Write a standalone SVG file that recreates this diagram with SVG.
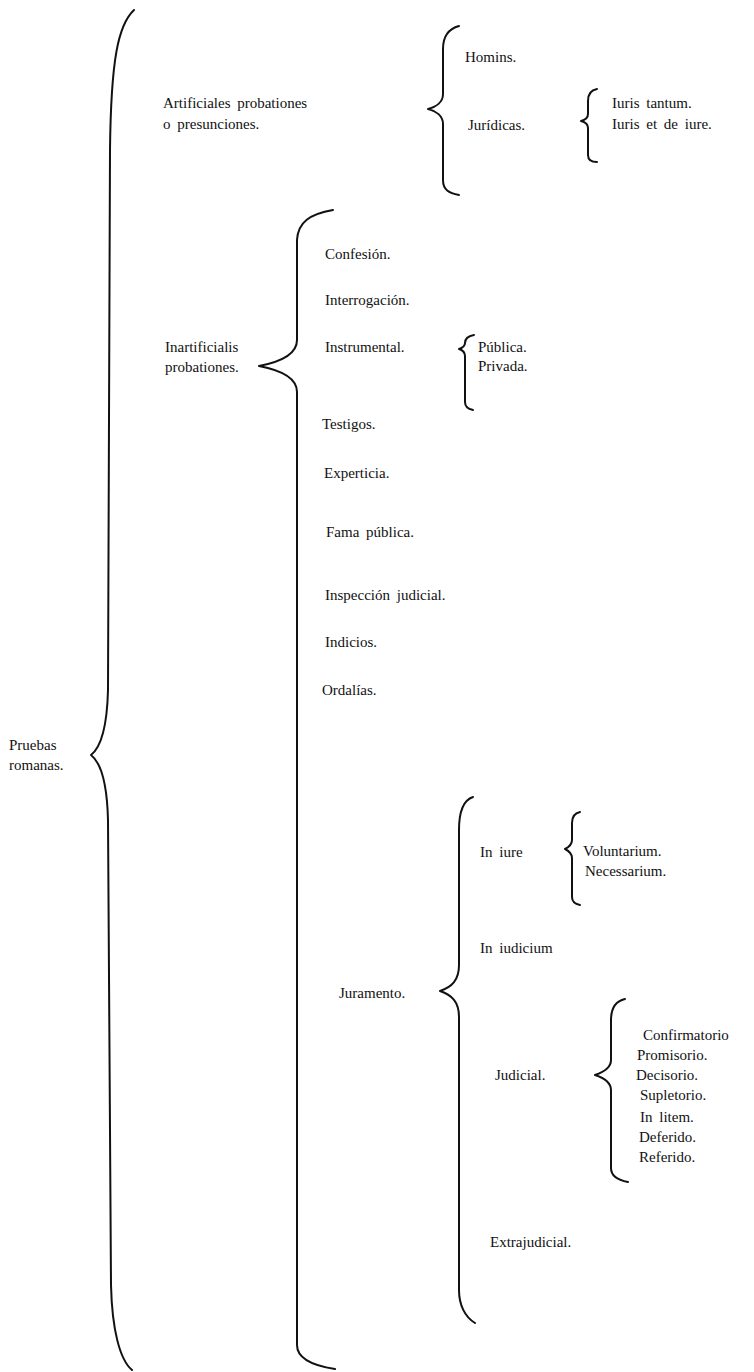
<svg xmlns="http://www.w3.org/2000/svg" width="754" height="1372" viewBox="0 0 754 1372">
<style>
text{font-family:"Liberation Serif","Times New Roman",serif;font-size:15px;fill:#111;word-spacing:3px}
.br{fill:none;stroke:#111;stroke-width:2;stroke-linecap:round;stroke-linejoin:round}
</style>
<rect width="754" height="1372" fill="#fff"/>
<g id="connectors">
<path class="br" d="M134,10 C118,25 111,60 110,150 L108,690 C107,730 100,748 91,755 C100,762 107,780 108,820 L111,1285 C112,1330 120,1360 132,1370"/>
<path class="br" d="M333,210 C310,214 298,222 297,240 L297,340 C297,355 280,362 259,366 C280,370 297,377 297,392 L297,1345 C297,1360 315,1366 335,1369"/>
<path class="br" d="M459,26 C448,29 443,36 443,49 L443,94 C443,102 436,107 428,109 C436,111 443,116 443,124 L443,180 C443,190 449,193 459,195"/>
<path class="br" d="M597,89 C591,90 588,94 588,101 L588,114 C588,118 585,120 581,121 C585,122 588,124 588,128 L588,155 C588,160 591,162 597,162"/>
<path class="br" d="M474,335 C468,336 465,339 465,343 C465,346 462,348 459,349 C462,350 465,352 465,356 L465,402 C465,407 468,409 473,410"/>
<path class="br" d="M473,797 C464,800 459,812 459,830 L459,965 C459,980 452,987 440,991 C452,995 459,1002 459,1017 L459,1290 C459,1305 465,1317 475,1323"/>
<path class="br" d="M580,812 C575,813 572,817 572,823 L572,840 C572,844 569,847 565,849 C569,851 572,854 572,858 L572,897 C572,902 575,904 580,905"/>
<path class="br" d="M625,999 C616,1001 611,1008 611,1020 L611,1060 C611,1068 604,1072 595,1075 C604,1078 611,1082 611,1090 L611,1168 C611,1176 617,1180 628,1182"/>
</g>
<g id="n-pruebas"><text x="9" y="750">Pruebas</text><text x="9" y="770">romanas.</text></g>
<g id="n-artificiales"><text x="163" y="108">Artificiales probationes</text><text x="163" y="129">o presunciones.</text></g>
<g id="n-homins"><text x="465" y="62">Homins.</text></g>
<g id="n-juridicas"><text x="468" y="130">Jurídicas.</text></g>
<g id="n-iuris-tantum"><text x="612" y="108">Iuris tantum.</text></g>
<g id="n-iuris-et-de-iure"><text x="612" y="129">Iuris et de iure.</text></g>
<g id="n-inartificialis"><text x="165" y="352">Inartificialis</text><text x="165" y="372">probationes.</text></g>
<g id="n-confesion"><text x="325" y="259">Confesión.</text></g>
<g id="n-interrogacion"><text x="325" y="305">Interrogación.</text></g>
<g id="n-instrumental"><text x="325" y="352">Instrumental.</text></g>
<g id="n-publica"><text x="478" y="352">Pública.</text></g>
<g id="n-privada"><text x="478" y="371">Privada.</text></g>
<g id="n-testigos"><text x="322" y="429">Testigos.</text></g>
<g id="n-experticia"><text x="324" y="478">Experticia.</text></g>
<g id="n-fama"><text x="326" y="537">Fama pública.</text></g>
<g id="n-inspeccion"><text x="325" y="600">Inspección judicial.</text></g>
<g id="n-indicios"><text x="325" y="647">Indicios.</text></g>
<g id="n-ordalias"><text x="322" y="695">Ordalías.</text></g>
<g id="n-juramento"><text x="339" y="998">Juramento.</text></g>
<g id="n-in-iure"><text x="480" y="857">In iure</text></g>
<g id="n-voluntarium"><text x="583" y="856">Voluntarium.</text></g>
<g id="n-necessarium"><text x="585" y="876">Necessarium.</text></g>
<g id="n-in-iudicium"><text x="480" y="953">In iudicium</text></g>
<g id="n-judicial"><text x="495" y="1080">Judicial.</text></g>
<g id="n-confirmatorio"><text x="643" y="1040">Confirmatorio</text></g>
<g id="n-promisorio"><text x="637" y="1060">Promisorio.</text></g>
<g id="n-decisorio"><text x="636" y="1080">Decisorio.</text></g>
<g id="n-supletorio"><text x="640" y="1100">Supletorio.</text></g>
<g id="n-in-litem"><text x="640" y="1122">In litem.</text></g>
<g id="n-deferido"><text x="639" y="1142">Deferido.</text></g>
<g id="n-referido"><text x="639" y="1162">Referido.</text></g>
<g id="n-extrajudicial"><text x="490" y="1247">Extrajudicial.</text></g>
</svg>
